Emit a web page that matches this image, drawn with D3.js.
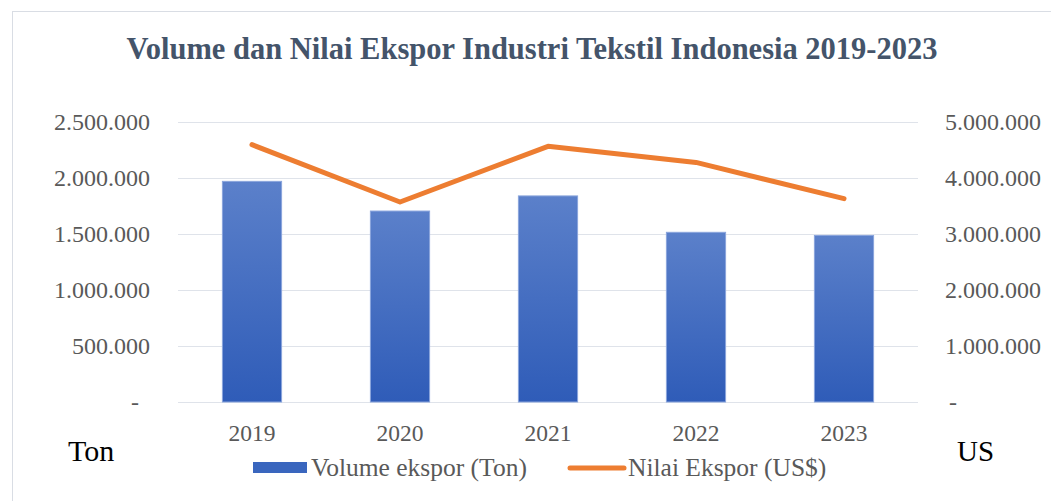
<!DOCTYPE html>
<html>
<head>
<meta charset="utf-8">
<script src="https://cdn.jsdelivr.net/npm/d3@7"></script>
<style>
  body { margin: 0; background: #fff; }
  text { font-family: "Liberation Serif", "Times New Roman", serif; }
</style>
</head>
<body>
<div id="chart"></div>
<script>
/* Volume dan nilai ekspor tekstil - bar + line, two axes */

const years = ["2019", "2020", "2021", "2022", "2023"];
const volume = [1970000, 1705000, 1840000, 1515000, 1487000];   // Ton
const nilai = [4595000, 3572000, 4565000, 4278000, 3632000];    // US$
const leftTicks = [0, 500000, 1000000, 1500000, 2000000, 2500000];
const rightTicks = [0, 1000000, 2000000, 3000000, 4000000, 5000000];

const width = 1051,
      height = 501,
      margin = ({top: 122, right: 133, bottom: 99, left: 178});

const locale = d3.formatLocale({decimal: ",", thousands: ".", grouping: [3], currency: ["", ""]});
const fmt = locale.format(",.0f");

let svg = d3.select("#chart")
    .append("svg")
    .attr("width", width)
    .attr("height", height);

// chart frame
svg.append("rect")
    .attr("x", 12.5).attr("y", 11.5)
    .attr("width", width + 20).attr("height", height + 20)
    .attr("fill", "none")
    .attr("stroke", "#d9dde4");

let x = d3.scaleBand()
    .domain(years)
    .range([margin.left, width - margin.right])
    .paddingInner(0.6)
    .paddingOuter(0.3);

let y = d3.scaleLinear()
    .domain([0, 2500000])
    .range([height - margin.bottom, margin.top]);

let y2 = d3.scaleLinear()
    .domain([0, 5000000])
    .range([height - margin.bottom, margin.top]);

// gridlines
svg.append("g")
    .selectAll("line")
    .data(leftTicks)
    .join("line")
    .attr("x1", margin.left)
    .attr("x2", width - margin.right)
    .attr("y1", d => Math.round(y(d)) + 0.5)
    .attr("y2", d => Math.round(y(d)) + 0.5)
    .attr("stroke", "#dfe3ea");

// left axis
let yAxis = svg.append("g")
    .attr("transform", `translate(150,0)`)
    .call(d3.axisLeft(y).tickValues(leftTicks).tickSize(0).tickPadding(0)
        .tickFormat(d => d === 0 ? "-" : fmt(d)));
yAxis.select(".domain").remove();
yAxis.selectAll("text")
    .attr("font-family", "Liberation Serif")
    .attr("font-size", 24)
    .attr("fill", "#595959")
    .attr("dx", d => d === 0 ? -11 : 0);

// right axis
let yAxis2 = svg.append("g")
    .attr("transform", `translate(945,0)`)
    .call(d3.axisRight(y2).tickValues(rightTicks).tickSize(0).tickPadding(0)
        .tickFormat(d => d === 0 ? "-" : fmt(d)));
yAxis2.select(".domain").remove();
yAxis2.selectAll("text")
    .attr("font-family", "Liberation Serif")
    .attr("font-size", 24)
    .attr("fill", "#595959")
    .attr("dx", d => d === 0 ? 4 : 0);

// x axis labels
let xAxis = svg.append("g")
    .attr("transform", `translate(0,${height - margin.bottom})`)
    .call(d3.axisBottom(x).tickSize(0).tickPadding(22));
xAxis.select(".domain").remove();
xAxis.selectAll("text")
    .attr("font-family", "Liberation Serif")
    .attr("font-size", 23.5)
    .attr("fill", "#595959");

// bar gradient
let grad = svg.append("defs").append("linearGradient")
    .attr("id", "barGrad")
    .attr("x1", 0).attr("y1", 0).attr("x2", 0).attr("y2", 1);
grad.append("stop").attr("offset", "0%").attr("stop-color", "#5b80ca");
grad.append("stop").attr("offset", "100%").attr("stop-color", "#2f5cb8");

svg.append("g")
    .selectAll("rect")
    .data(years)
    .join("rect")
    .attr("x", d => x(d))
    .attr("width", x.bandwidth())
    .attr("y", (d, i) => y(volume[i]))
    .attr("height", (d, i) => y(0) - y(volume[i]))
    .attr("fill", "url(#barGrad)")
    .attr("stroke", "#8aa5dc")
    .attr("stroke-width", 1);

// line
let line = d3.line()
    .x((d, i) => x(years[i]) + x.bandwidth() / 2)
    .y(d => y2(d));

svg.append("path")
    .datum(nilai)
    .attr("d", line)
    .attr("fill", "none")
    .attr("stroke", "#ed7d31")
    .attr("stroke-width", 5)
    .attr("stroke-linecap", "round")
    .attr("stroke-linejoin", "round");

// title
svg.append("text")
    .attr("x", 532)
    .attr("y", 59)
    .attr("text-anchor", "middle")
    .attr("font-size", 30.5)
    .attr("font-weight", "bold")
    .attr("fill", "#44546a")
    .text("Volume dan Nilai Ekspor Industri Tekstil Indonesia 2019-2023");

// unit labels
svg.append("text")
    .attr("x", 68).attr("y", 461)
    .attr("font-size", 30)
    .attr("fill", "#000")
    .text("Ton");
svg.append("text")
    .attr("x", 957).attr("y", 461)
    .attr("font-size", 29)
    .attr("fill", "#000")
    .text("US");

// legend
let legend = svg.append("g");
legend.append("rect")
    .attr("x", 253).attr("y", 462)
    .attr("width", 54).attr("height", 11)
    .attr("fill", "#3a66be");
legend.append("text")
    .attr("x", 311).attr("y", 476)
    .attr("font-size", 25.5)
    .attr("fill", "#595959")
    .text("Volume ekspor (Ton)");
legend.append("line")
    .attr("x1", 570).attr("x2", 624)
    .attr("y1", 468).attr("y2", 468)
    .attr("stroke", "#ed7d31")
    .attr("stroke-width", 5)
    .attr("stroke-linecap", "round");
legend.append("text")
    .attr("x", 628).attr("y", 476)
    .attr("font-size", 25.5)
    .attr("fill", "#595959")
    .text("Nilai Ekspor (US$)");
</script>
</body>
</html>
